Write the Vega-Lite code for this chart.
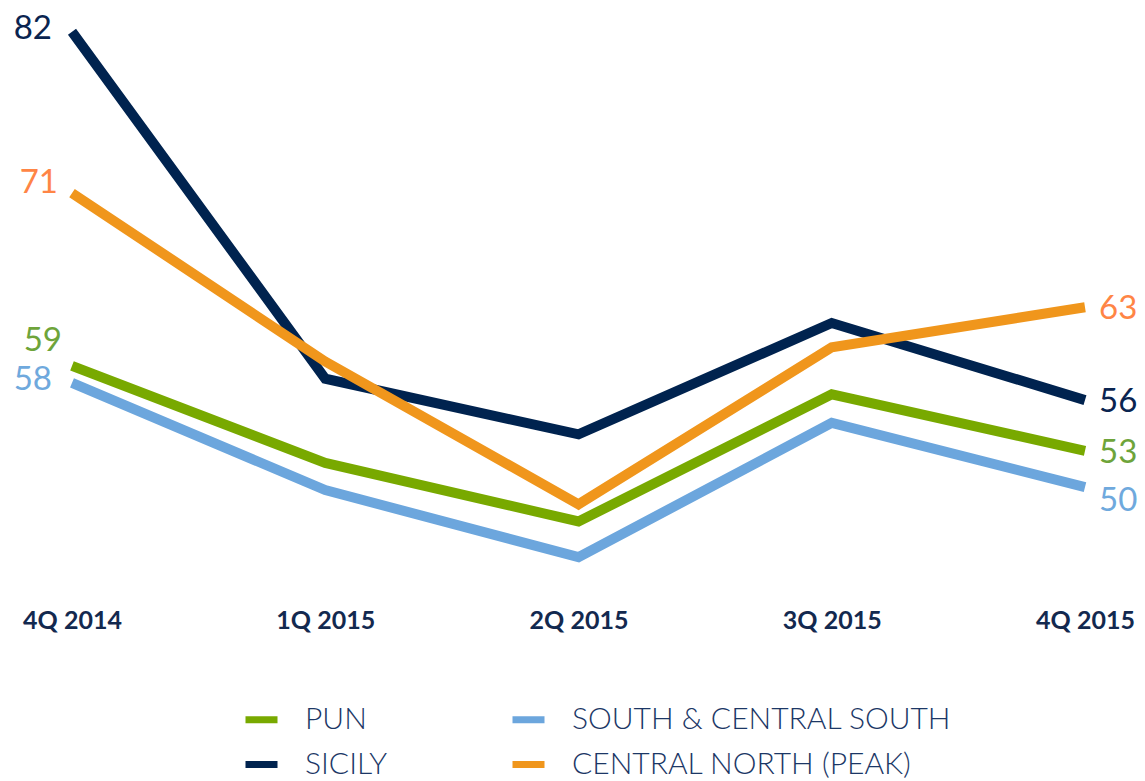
{
  "$schema": "https://vega.github.io/schema/vega-lite/v6.json",
  "autosize": {"type": "none"},
  "width": 1013,
  "height": 594,
  "padding": {"left": 72, "top": 6, "right": 60, "bottom": 181},
  "background": "white",
  "config": {"view": {"stroke": null}, "font": "Lato"},
  "data": {
    "values": [
      {"quarter": "4Q 2014", "series": "PUN", "value": 58.8},
      {"quarter": "1Q 2015", "series": "PUN", "value": 52.0},
      {"quarter": "2Q 2015", "series": "PUN", "value": 47.9},
      {"quarter": "3Q 2015", "series": "PUN", "value": 56.8},
      {"quarter": "4Q 2015", "series": "PUN", "value": 52.85},
      {"quarter": "4Q 2014", "series": "South & Central South", "value": 57.6},
      {"quarter": "1Q 2015", "series": "South & Central South", "value": 50.1},
      {"quarter": "2Q 2015", "series": "South & Central South", "value": 45.4},
      {"quarter": "3Q 2015", "series": "South & Central South", "value": 54.8},
      {"quarter": "4Q 2015", "series": "South & Central South", "value": 50.3},
      {"quarter": "4Q 2014", "series": "Sicily", "value": 82.2},
      {"quarter": "1Q 2015", "series": "Sicily", "value": 57.9},
      {"quarter": "2Q 2015", "series": "Sicily", "value": 54.0},
      {"quarter": "3Q 2015", "series": "Sicily", "value": 61.8},
      {"quarter": "4Q 2015", "series": "Sicily", "value": 56.4},
      {"quarter": "4Q 2014", "series": "Central North (peak)", "value": 70.9},
      {"quarter": "1Q 2015", "series": "Central North (peak)", "value": 59.1},
      {"quarter": "2Q 2015", "series": "Central North (peak)", "value": 49.1},
      {"quarter": "3Q 2015", "series": "Central North (peak)", "value": 60.1},
      {"quarter": "4Q 2015", "series": "Central North (peak)", "value": 62.9}
    ]
  },
  "encoding": {
    "x": {
      "field": "quarter",
      "type": "ordinal",
      "sort": ["4Q 2014", "1Q 2015", "2Q 2015", "3Q 2015", "4Q 2015"],
      "scale": {"type": "point", "padding": 0},
      "axis": {
        "title": null,
        "domain": false,
        "ticks": false,
        "grid": false,
        "labelAngle": 0,
        "labelFontSize": 25,
        "labelFontWeight": "bold",
        "labelColor": "#13294f",
        "labelPadding": 8
      }
    },
    "y": {
      "field": "value",
      "type": "quantitative",
      "scale": {"domain": [42.4, 84], "nice": false, "zero": false},
      "axis": null
    }
  },
  "layer": [
    {
      "mark": {"type": "line", "strokeWidth": 10, "strokeJoin": "miter", "strokeCap": "butt"},
      "encoding": {
        "color": {
          "field": "series",
          "type": "nominal",
          "scale": {
            "domain": ["PUN", "Sicily", "South & Central South", "Central North (peak)"],
            "range": ["#78a900", "#00234f", "#6ca6dd", "#f0961c"]
          },
          "legend": {
            "title": null,
            "orient": "none",
            "legendX": 170,
            "legendY": 694,
            "direction": "vertical",
            "columns": 2,
            "columnPadding": 110,
            "rowPadding": 10,
            "symbolType": "stroke",
            "symbolSize": 1024,
            "symbolStrokeWidth": 7,
            "labelOffset": 24,
            "labelFontSize": 30,
            "labelFontWeight": 300,
            "labelColor": "#1c3766",
            "labelLimit": 600,
            "labelExpr": "upper(datum.label)"
          }
        }
      }
    },
    {
      "transform": [{"filter": "datum.quarter == '4Q 2014' && (datum.series == 'Sicily' || datum.series == 'South & Central South')"}],
      "mark": {"type": "text", "align": "right", "baseline": "middle", "dx": -20, "dy": -3, "fontSize": 33},
      "encoding": {
        "text": {"field": "value", "type": "quantitative", "format": ".0f"},
        "color": {
          "field": "series", "type": "nominal", "legend": null,
          "scale": {
            "domain": ["PUN", "South & Central South", "Sicily", "Central North (peak)"],
            "range": ["#6ea43a", "#6fa9dd", "#0a2450", "#ff8545"]
          }
        }
      }
    },
    {
      "transform": [{"filter": "datum.quarter == '4Q 2014' && datum.series == 'Central North (peak)'"}],
      "mark": {"type": "text", "align": "right", "baseline": "middle", "dx": -14, "dy": -10, "fontSize": 33},
      "encoding": {
        "text": {"field": "value", "type": "quantitative", "format": ".0f"},
        "color": {
          "field": "series", "type": "nominal", "legend": null,
          "scale": {
            "domain": ["PUN", "South & Central South", "Sicily", "Central North (peak)"],
            "range": ["#6ea43a", "#6fa9dd", "#0a2450", "#ff8545"]
          }
        }
      }
    },
    {
      "transform": [{"filter": "datum.quarter == '4Q 2014' && datum.series == 'PUN'"}],
      "mark": {"type": "text", "align": "right", "baseline": "middle", "dx": -10, "dy": -25, "fontSize": 33},
      "encoding": {
        "text": {"field": "value", "type": "quantitative", "format": ".0f"},
        "color": {
          "field": "series", "type": "nominal", "legend": null,
          "scale": {
            "domain": ["PUN", "South & Central South", "Sicily", "Central North (peak)"],
            "range": ["#6ea43a", "#6fa9dd", "#0a2450", "#ff8545"]
          }
        }
      }
    },
    {
      "transform": [{"filter": "datum.quarter == '4Q 2015' && datum.series != 'South & Central South'"}],
      "mark": {"type": "text", "align": "left", "baseline": "middle", "dx": 14, "dy": 2, "fontSize": 33},
      "encoding": {
        "text": {"field": "value", "type": "quantitative", "format": ".0f"},
        "color": {
          "field": "series", "type": "nominal", "legend": null,
          "scale": {
            "domain": ["PUN", "South & Central South", "Sicily", "Central North (peak)"],
            "range": ["#6ea43a", "#6fa9dd", "#0a2450", "#ff8545"]
          }
        }
      }
    },
    {
      "transform": [{"filter": "datum.quarter == '4Q 2015' && datum.series == 'South & Central South'"}],
      "mark": {"type": "text", "align": "left", "baseline": "middle", "dx": 14, "dy": 14, "fontSize": 33},
      "encoding": {
        "text": {"field": "value", "type": "quantitative", "format": ".0f"},
        "color": {
          "field": "series", "type": "nominal", "legend": null,
          "scale": {
            "domain": ["PUN", "South & Central South", "Sicily", "Central North (peak)"],
            "range": ["#6ea43a", "#6fa9dd", "#0a2450", "#ff8545"]
          }
        }
      }
    }
  ],
  "resolve": {"scale": {"color": "independent"}}
}
